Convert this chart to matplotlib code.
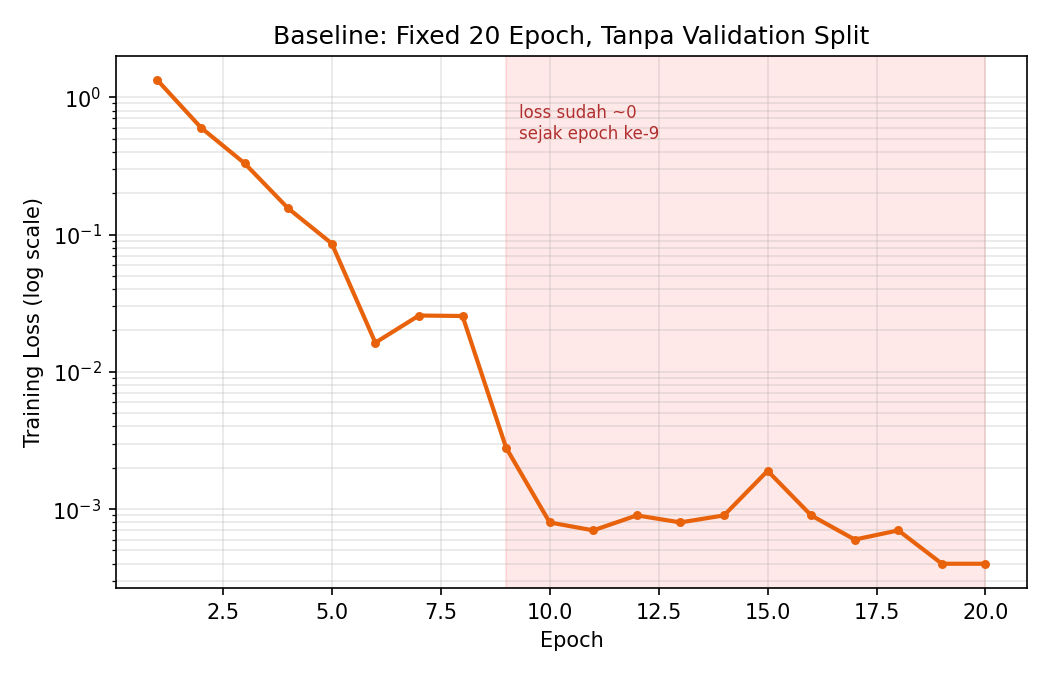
import numpy as np
import matplotlib
matplotlib.use('Agg')
import matplotlib.pyplot as plt

# training loss per epoch
epochs = list(range(1, 21))
loss = [1.33, 0.60, 0.33, 0.155, 0.086, 0.0163, 0.0257, 0.0255, 0.0028, 0.0008,
        0.0007, 0.0009, 0.0008, 0.0009, 0.0019, 0.0009, 0.0006, 0.0007, 0.0004, 0.0004]
zero_from = 9

fig, ax = plt.subplots(figsize=(7, 4.5), dpi=150)
ax.axvspan(zero_from, epochs[-1], color='red', alpha=0.09)
ax.plot(epochs, loss, marker='o', markersize=3.3, linewidth=2, color='#e8620c')
ax.set_yscale('log')
ax.grid(True, which='both', alpha=0.3)
ax.text(zero_from + 0.3, 0.5, 'loss sudah ~0\nsejak epoch ke-9', fontsize=8, color='#b03030')
ax.set_title('Baseline: Fixed 20 Epoch, Tanpa Validation Split')
ax.set_xlabel('Epoch')
ax.set_ylabel('Training Loss (log scale)')
plt.subplots_adjust(left=0.1105, right=0.978, top=0.917, bottom=0.129)
plt.savefig('out.png')
